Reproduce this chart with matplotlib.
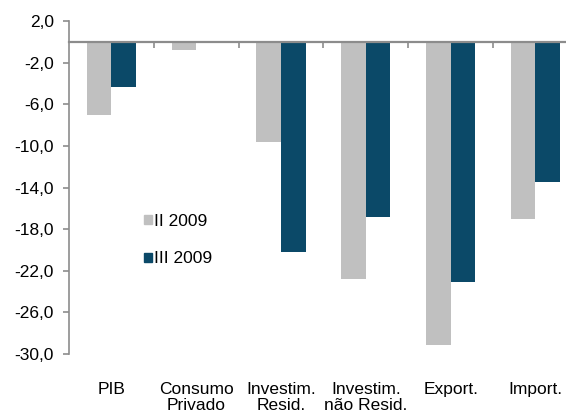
import numpy as np
import matplotlib
matplotlib.use("Agg")
import matplotlib.pyplot as plt
import matplotlib.ticker as mticker
from matplotlib.patches import Patch

plt.rcParams["font.family"] = ["Liberation Sans", "DejaVu Sans"]

# ── Data ───────────────────────────────────────────────────────────────────
categories = ["PIB", "Consumo\nPrivado", "Investim.\nResid.", "Investim.\nnão Resid.",
              "Export.", "Import."]
series_names = ["II 2009", "III 2009"]
q2_2009 = [-7.0, -0.8, -9.6, -22.8, -29.1, -17.0]
q3_2009 = [-4.3, -0.1, -20.2, -16.8, -23.1, -13.5]
yticks = [2, -2, -6, -10, -14, -18, -22, -26, -30]

GRAY = "#c0c0c0"
BLUE = "#0b4968"
AXIS = "#8c8c8c"
FS = 12.5

# ── Plot ───────────────────────────────────────────────────────────────────
fig = plt.figure(figsize=(5.66, 4.16), dpi=100)
ax = fig.add_axes([0.122, 0.149, 0.899, 0.8005])

x = np.arange(len(categories))
w = 0.29
ax.bar(x - w / 2, q2_2009, w, color=GRAY, zorder=2)
ax.bar(x + w / 2, q3_2009, w, color=BLUE, zorder=2)

ax.set_xlim(-0.5, len(categories) - 0.5)
ax.set_ylim(-30, 2)

for s in ["top", "right"]:
    ax.spines[s].set_visible(False)
ax.spines["bottom"].set_position(("data", 0))
ax.spines["bottom"].set_color(AXIS)
ax.spines["bottom"].set_linewidth(1.6)
ax.spines["bottom"].set_zorder(3)
ax.spines["left"].set_color(AXIS)
ax.spines["left"].set_linewidth(1.2)

ax.set_xticks(x[:-1] + 0.5)
ax.set_xticklabels([])
ax.tick_params(axis="x", direction="out", length=4, width=1.2, color=AXIS)

ax.set_yticks(yticks)
ax.yaxis.set_major_formatter(mticker.FuncFormatter(lambda v, _: f"{v:.1f}".replace(".", ",")))
ax.tick_params(axis="y", direction="out", length=4, width=1.2, color=AXIS,
               labelsize=FS, pad=7)

sec = ax.secondary_xaxis(0)
sec.set_xticks(x)
sec.set_xticklabels(categories, fontsize=FS, linespacing=1.1)
sec.tick_params(length=0, pad=20)
sec.spines["bottom"].set_visible(False)

handles = [Patch(color=GRAY), Patch(color=BLUE)]
fig.legend(handles, series_names, loc="upper left", bbox_to_anchor=(0.255, 0.486),
           frameon=False, fontsize=FS, handlelength=0.45, handleheight=0.45,
           handletextpad=0.1, labelspacing=1.3, borderpad=0, borderaxespad=0)

plt.savefig("out.png", dpi=100)
plt.close()
